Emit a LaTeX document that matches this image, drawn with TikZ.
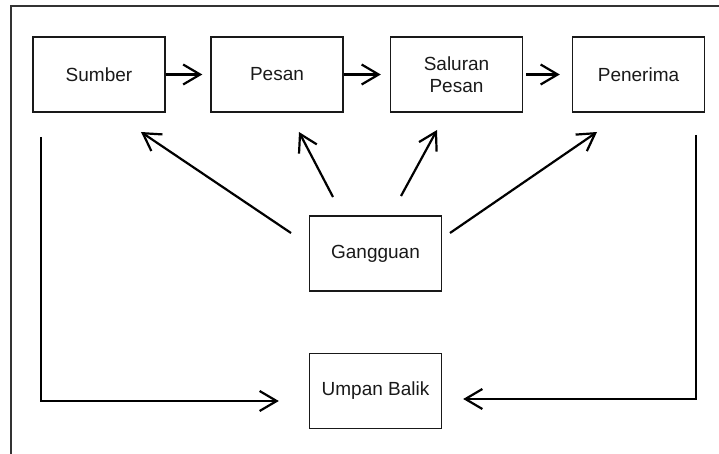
\documentclass[tikz,border=0pt]{standalone}
\usepackage{fontspec}
\setmainfont{Liberation Sans}
\usetikzlibrary{arrows.meta}
\begin{document}
\begin{tikzpicture}[x=1pt,y=-1pt,
  box/.style={draw=black!90,line width=1.4pt,minimum width=132pt,minimum height=75pt,inner sep=0pt,align=center,
    font=\fontsize{19}{22}\selectfont,text=black!90},
  conn/.style={line width=2.2pt,-{Straight Barb[length=17pt,width=20pt,line width=2.2pt]}},
  line/.style={line width=2.2pt}]
\useasboundingbox (0,0) rectangle (719,454);
% outer frame (open at right and bottom)
\draw[line width=2pt,black!80] (11,460) -- (11,6) -- (725,6);
% nodes
\node[box] (sumber) at (99,74.5) {Sumber};
\node[box] (pesan) at (277,74.5) {Pesan};
\node[box] (saluran) at (456.5,74.5) {Saluran\\Pesan};
\node[box] (penerima) at (638.5,74.5) {Penerima};
\node[box] (gang) at (375.5,253.5) {Gangguan};
\node[box] (umpan) at (375.5,391) {Umpan Balik};
% top chain
\draw[conn,shorten >=8pt] (sumber.east) -- (pesan.west);
\draw[conn,shorten >=9pt] (pesan.east) -- (saluran.west);
\draw[conn,shorten <=3pt,shorten >=12pt] (saluran.east) -- (penerima.west);
% noise arrows
\coordinate (g1) at (291,233); \coordinate (t1) at (141,132);
\coordinate (g2) at (333,197); \coordinate (t2) at (299,132);
\coordinate (g3) at (401,196); \coordinate (t3) at (437,130);
\coordinate (g4) at (450,233); \coordinate (t4) at (597,132);
\draw[conn] (g1) -- (t1);
\draw[conn] (g2) -- (t2);
\draw[conn] (g3) -- (t3);
\draw[conn] (g4) -- (t4);
% feedback
\coordinate (fl) at (41,137);
\coordinate (fr) at (696,135);
\draw[conn,shorten >=30pt] (fl) |- (umpan.west |- 0,401);
\draw[conn,shorten >=21pt] (fr) |- (umpan.east |- 0,399);
\end{tikzpicture}
\end{document}
